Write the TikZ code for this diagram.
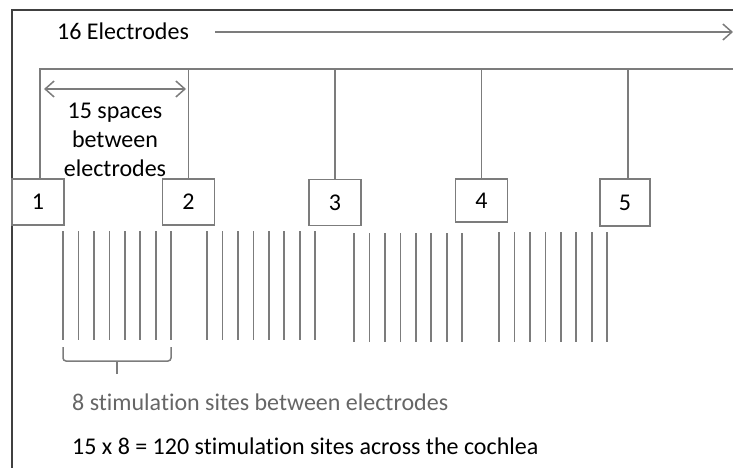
\documentclass[tikz,border=0pt]{standalone}
\usepackage{fontspec}
\setmainfont{Carlito}[Ligatures=NoCommon]
\usetikzlibrary{arrows.meta}
\definecolor{linegray}{HTML}{7C7C7C}
\definecolor{framegray}{HTML}{404040}
\definecolor{notegray}{HTML}{666666}
\begin{document}
\begin{tikzpicture}[x=1pt,y=-1pt,
  every node/.style={font=\fontsize{24}{29}\selectfont},
  thin line/.style={draw=linegray,line width=1.5pt},
  electrode/.style={draw=linegray,line width=1.5pt,minimum width=52pt,minimum height=46pt,inner sep=0pt,fill=white},
  site/.style={draw=linegray,line width=1.6pt},
  label/.style={inner sep=0pt,anchor=base west}]
  \useasboundingbox (0,0) rectangle (733,468);

  % frame edges (top and left)
  \draw[framegray,line width=1.5pt] (733,10) -- (12,10) -- (12,468);

  % count of electrodes along the array
  \node[label] (count) at (57,40) {16 Electrodes};
  \coordinate (countend) at (733,32);
  \draw[thin line,-{Straight Barb[length=9pt,width=16pt,line width=1.5pt]}] (215,32) -- (countend);

  % electrodes
  \node[electrode] (e1) at (38,202) {1};
  \node[electrode] (e2) at (188.5,202) {2};
  \node[electrode] (e3) at (335,202.5) {3};
  \node[electrode,minimum height=43pt] (e4) at (481.5,200.5) {4};
  \node[electrode,minimum width=50pt,minimum height=47pt] (e5) at (625,202.5) {5};

  % common lead and drops to each electrode
  \coordinate (b1) at (40,69);
  \coordinate (busend) at (733,69);
  \draw[thin line] (e1.north -| b1) -- (b1) -- (busend);
  \foreach \e in {e2,e3,e4} \draw[thin line] (\e.north) -- (\e.north |- b1);
  \coordinate (b5) at (628,69);
  \draw[thin line] (b5) -- (b5 |- e5.north);

  % spacing between two electrodes
  \coordinate (sp1) at (44,89);
  \coordinate (sp2) at (186,89);
  \draw[thin line,{Straight Barb[length=9pt,width=16pt,line width=1.5pt]}-{Straight Barb[length=9pt,width=16pt,line width=1.5pt]}] (sp1) -- (sp2);
  \node[align=center,inner sep=0pt,anchor=base] (spaces) at (115,176) {15 spaces\\between\\electrodes};

  % stimulation sites, eight per gap
  \foreach \x/\t/\b in {63/231/340,207/231/340,354/233/342,499/232/342}
    \foreach \i in {0,...,7}
      \draw[site] (\x+\i*15.45,\t) -- (\x+\i*15.45,\b);

  % brace under the first group
  \coordinate (brl) at (63,347);
  \coordinate (brr) at (171,347);
  \coordinate (brtip) at (117,374);
  \draw[thin line,rounded corners=3pt] (brl) -- (63,361) -- (171,361) -- (brr);
  \draw[thin line] (brtip) -- (117,361);

  % notes
  \node[label,text=notegray] (note1) at (72,410) {8 stimulation sites between electrodes};
  \node[label] (note2) at (72,454) {15 x 8 = 120 stimulation sites across the cochlea};
\end{tikzpicture}
\end{document}
